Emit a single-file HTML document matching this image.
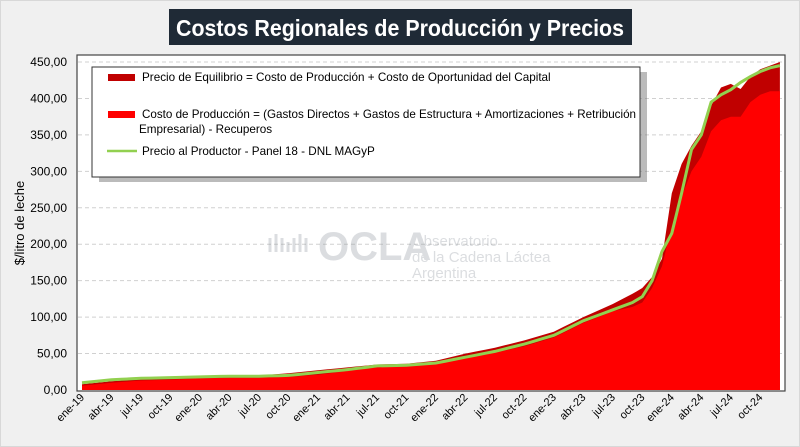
<!DOCTYPE html>
<html><head><meta charset="utf-8"><style>
html,body{margin:0;padding:0;background:#f0f0f0;}
body{width:800px;height:447px;overflow:hidden;position:relative;font-family:"Liberation Sans",sans-serif;}
</style></head><body>
<svg id="s" width="800" height="447" xmlns="http://www.w3.org/2000/svg" style="position:absolute;left:0;top:0">
<rect x="0.5" y="0.5" width="799" height="446" fill="#f0f0f0" stroke="#d8d8d8"/>
<rect x="169" y="9" width="463" height="36" fill="#1f2a36"/>
<text x="400" y="36" text-anchor="middle" font-size="23" font-weight="bold" fill="#fff" font-family="Liberation Sans, sans-serif" textLength="448" lengthAdjust="spacingAndGlyphs">Costos Regionales de Producción y Precios</text>
<rect x="77" y="55" width="708" height="336" fill="#fff" stroke="#444" stroke-width="1.2"/>
<g id="grid"></g>
<g opacity="0.35" font-family="Liberation Sans, sans-serif" fill="#9aa0a8">
<text x="318" y="260" font-size="40" font-weight="bold">OCLA</text>
<text x="412" y="246" font-size="15">Observatorio</text>
<text x="412" y="262" font-size="15">de la Cadena Láctea</text>
<text x="412" y="278" font-size="15">Argentina</text>
<path d="M270 252 v-14 M276 252 v-18 M282 252 v-14 M288 252 v-10 M294 252 v-14 M300 252 v-18 M306 252 v-14" stroke="#9aa0a8" stroke-width="3"/>
</g>
<g id="data"></g>
<g id="labels" font-family="Liberation Sans, sans-serif" font-size="12" fill="#000"></g>
<text transform="translate(24,223) rotate(-90)" text-anchor="middle" font-size="13" font-family="Liberation Sans, sans-serif">$/litro de leche</text>
<rect x="96" y="69" width="548" height="110" fill="#777" opacity="0.5" transform="translate(3,3)"/>
<rect x="92" y="67" width="548" height="110" fill="#fff" stroke="#333"/>
<rect x="108" y="74" width="27" height="7" fill="#c00000"/>
<text x="142" y="81" font-size="11.7" font-family="Liberation Sans, sans-serif">Precio de Equilibrio = Costo de Producción + Costo de Oportunidad del Capital</text>
<rect x="108" y="111" width="27" height="7" fill="#ff0000"/>
<text x="142" y="118" font-size="11.7" font-family="Liberation Sans, sans-serif" textLength="494" lengthAdjust="spacingAndGlyphs">Costo de Producción = (Gastos Directos + Gastos de Estructura + Amortizaciones + Retribución</text>
<text x="139" y="133" font-size="11.7" font-family="Liberation Sans, sans-serif">Empresarial) - Recuperos</text>
<line x1="107" y1="151" x2="137" y2="151" stroke="#92d050" stroke-width="2.5"/>
<text x="142" y="155" font-size="11.7" font-family="Liberation Sans, sans-serif">Precio al Productor - Panel 18 - DNL MAGyP</text>
</svg>
<script>
const Y=v=>390-v*0.7289, X=i=>82+i*9.83;
const g=document.getElementById('grid'),d=document.getElementById('data'),l=document.getElementById('labels');
let h='';for(let v=50;v<=450;v+=50)h+=`<line x1="78" x2="784" y1="${Y(v)}" y2="${Y(v)}" stroke="#d0d0d0" stroke-dasharray="4,3"/>`;
g.innerHTML=h;
let t='';for(let v=0;v<=450;v+=50)t+=`<text x="67" y="${Y(v)+4}" text-anchor="end" font-size="12">${v.toFixed(2).replace('.',',')}</text>`;
const mo=['ene','abr','jul','oct'];
for(let q=0;q<24;q++){const x=X(q*3);t+=`<text transform="translate(${x+3},${398}) rotate(-45)" text-anchor="end" font-size="11">${mo[q%4]}-${19+Math.floor(q/4)}</text>`;}
l.innerHTML=t;
function interp(k){const a=[];for(let i=0;i<k.length-1;i++){const[x0,y0]=k[i],[x1,y1]=k[i+1];for(let m=x0;m<x1;m++)a[m]=y0+(y1-y0)*(m-x0)/(x1-x0);}a[k[k.length-1][0]]=k[k.length-1][1];return a;}
const pr=interp([[0,10],[3,14],[6,16],[9,17],[12,18],[15,19],[18,19],[21,20],[24,24],[27,28],[30,33],[33,34],[36,37],[39,45],[42,53],[45,63],[48,75],[51,95],[54,110],[56,120],[57,128],[58,150],[59,190],[60,215],[61,270],[62,330],[63,350],[64,395],[65,405],[66,412],[67,422],[68,430],[69,437],[70,442],[71,445]]);
const co=interp([[0,6],[3,10],[6,13],[9,14],[12,16],[15,17],[18,17],[21,18],[24,21],[27,26],[30,31],[33,33],[36,36],[39,44],[42,51],[45,60],[48,72],[51,92],[54,108],[56,114],[57,120],[58,140],[59,170],[60,225],[61,265],[62,300],[63,320],[64,355],[65,370],[66,375],[67,375],[68,395],[69,405],[70,410],[71,410]]);
const eq=interp([[0,8],[3,12],[6,15],[9,16],[12,17],[15,19],[18,20],[21,23],[24,27],[27,31],[30,35],[33,36],[36,40],[39,50],[42,58],[45,68],[48,80],[51,100],[54,118],[56,132],[57,140],[58,155],[59,180],[60,270],[61,310],[62,335],[63,355],[64,390],[65,415],[66,420],[67,413],[68,430],[69,440],[70,445],[71,450]]);
const path=a=>{let s=`M${X(0)},${Y(0)}`;a.forEach((v,i)=>s+=` L${X(i).toFixed(1)},${Y(v).toFixed(1)}`);return s+` L${X(71)},${Y(0)} Z`;};
const line=a=>a.map((v,i)=>(i?'L':'M')+X(i).toFixed(1)+','+Y(v).toFixed(1)).join(' ');
d.innerHTML=`<path d="${path(eq)}" fill="#c00000"/><path d="${path(co)}" fill="#ff0000"/><path d="${line(pr)}" fill="none" stroke="#92d050" stroke-width="3"/>`;
</script>
</body></html>
